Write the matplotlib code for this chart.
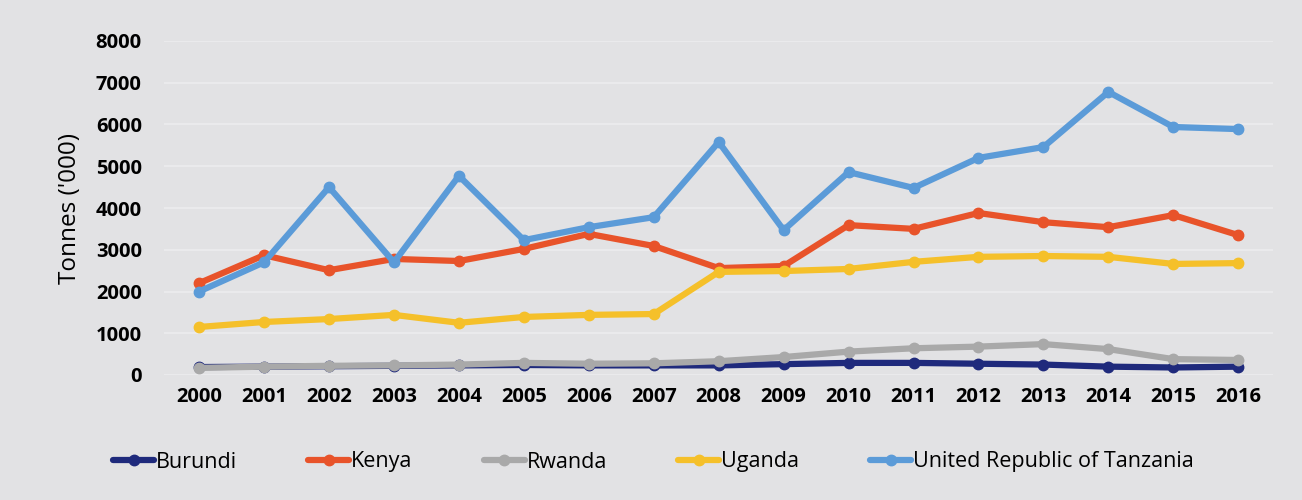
import numpy as np
import matplotlib.pyplot as plt

# roky a hodnoty (tisíce tun)
years = list(range(2000, 2017))
burundi = [190, 200, 210, 220, 230, 240, 230, 230, 230, 260, 290, 290, 270, 250, 200, 180, 200]
kenya = [2200, 2870, 2510, 2780, 2730, 3020, 3380, 3090, 2560, 2610, 3590, 3500, 3880, 3660, 3540, 3830, 3350]
rwanda = [170, 200, 220, 230, 250, 290, 270, 280, 330, 430, 560, 640, 680, 740, 620, 380, 360]
uganda = [1150, 1270, 1340, 1440, 1250, 1390, 1440, 1460, 2470, 2490, 2540, 2710, 2830, 2850, 2830, 2660, 2680]
tanzania = [2000, 2700, 4500, 2700, 4770, 3230, 3540, 3780, 5580, 3470, 4860, 4480, 5200, 5460, 6780, 5940, 5890]

series = [
    ('Burundi', burundi, '#1f2a7c'),
    ('Kenya', kenya, '#e8532a'),
    ('Rwanda', rwanda, '#a9a9a9'),
    ('Uganda', uganda, '#f5c02a'),
    ('United Republic of Tanzania', tanzania, '#5b9bd8'),
]

plt.rcParams['font.family'] = ['Open Sans', 'DejaVu Sans']

fig = plt.figure(figsize=(13.02, 5.0), dpi=100, facecolor='#e2e2e4')
ax = fig.add_axes([0.126, 0.25, 0.852, 0.668])
ax.set_facecolor('#e2e2e4')

for name, vals, col in series:
    ax.plot(years, vals, color=col, lw=4.5, marker='o', ms=7.5, label=name,
            solid_capstyle='round')

ax.set_xlim(1999.46, 2016.54)
ax.set_ylim(0, 8000)
ax.set_yticks(range(0, 8001, 1000))
ax.set_xticks(years)
ax.tick_params(length=0, labelsize=14.5)
ax.tick_params(axis='y', pad=16)
ax.tick_params(axis='x', pad=9)
for lab in ax.get_xticklabels() + ax.get_yticklabels():
    lab.set_fontweight('bold')
ax.grid(axis='y', color='#ececee', lw=1.2)
ax.set_axisbelow(True)
for s in ax.spines.values():
    s.set_visible(False)

ax.set_ylabel("Tonnes ('000)", fontsize=17.5, labelpad=10)

fig.legend(loc='center', bbox_to_anchor=(0.502, 0.076), ncol=5, frameon=False,
           fontsize=15.5, handlelength=1.9, handletextpad=0.1, columnspacing=3.3)

plt.savefig('out.png', dpi=100, facecolor=fig.get_facecolor())
